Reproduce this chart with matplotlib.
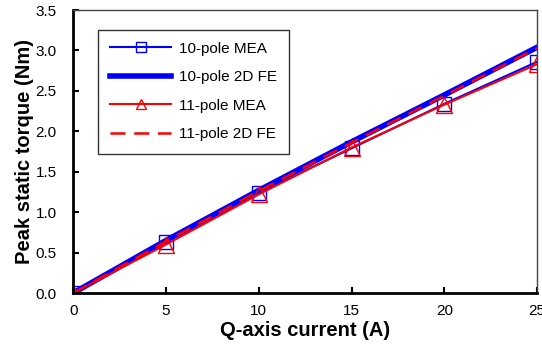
import matplotlib
matplotlib.use("Agg")
import matplotlib.pyplot as plt

plt.rcParams['font.family'] = ['Liberation Sans', 'DejaVu Sans']

current = [0, 5, 10, 15, 20, 25]
mea_10 = [0.0, 0.63, 1.24, 1.79, 2.34, 2.86]
fe_10 = [0.0, 0.65, 1.27, 1.87, 2.45, 3.04]
mea_11 = [0.0, 0.60, 1.22, 1.80, 2.33, 2.83]
fe_11 = [0.0, 0.64, 1.26, 1.86, 2.44, 3.03]

fig = plt.figure(figsize=(5.42, 3.46), dpi=100)
ax = fig.add_axes([0.135, 0.153, 0.856, 0.818])

ax.plot(current, mea_10, color='#0000ff', lw=1.5, marker='s', ms=10,
        mfc='none', mec='#0000ff', mew=1, label='10-pole MEA')
ax.plot(current, fe_10, color='#0000ff', lw=4, label='10-pole 2D FE')
ax.plot(current, mea_11, color='#ff0000', lw=1.5, marker='^', ms=11,
        mfc='none', mec='#ff0000', mew=1, label='11-pole MEA')
ax.plot(current, fe_11, color='#ff0000', lw=1.8, ls=(0, (6, 3.5)),
        label='11-pole 2D FE')

ax.set_xlim(0, 25)
ax.set_ylim(0, 3.5)
ax.set_xticks([0, 5, 10, 15, 20, 25])
ax.set_yticks([0.0, 0.5, 1.0, 1.5, 2.0, 2.5, 3.0, 3.5])
ax.set_yticklabels(['%.1f' % v for v in ax.get_yticks()])
ax.tick_params(direction='in', labelsize=11, length=4, width=1.5)
ax.tick_params(axis='x', pad=8)
ax.tick_params(axis='y', pad=12)

for s in ['left', 'bottom']:
    ax.spines[s].set_linewidth(2)
for s in ['top', 'right']:
    ax.spines[s].set_linewidth(1)
    ax.spines[s].set_color('#444444')

ax.set_xlabel('Q-axis current (A)', fontsize=14.5, fontweight='bold', labelpad=2)
ax.set_ylabel('Peak static torque (Nm)', fontsize=14.5, fontweight='bold', labelpad=1)

leg = ax.legend(loc='upper left', bbox_to_anchor=(0.037, 0.958), fontsize=11,
                frameon=True, fancybox=False, edgecolor='black',
                handlelength=4.0, labelspacing=0.95, borderpad=0.8,
                handletextpad=0.5, markerscale=0.65)
leg.get_frame().set_linewidth(1)

fig.savefig('out.png', dpi=100)
